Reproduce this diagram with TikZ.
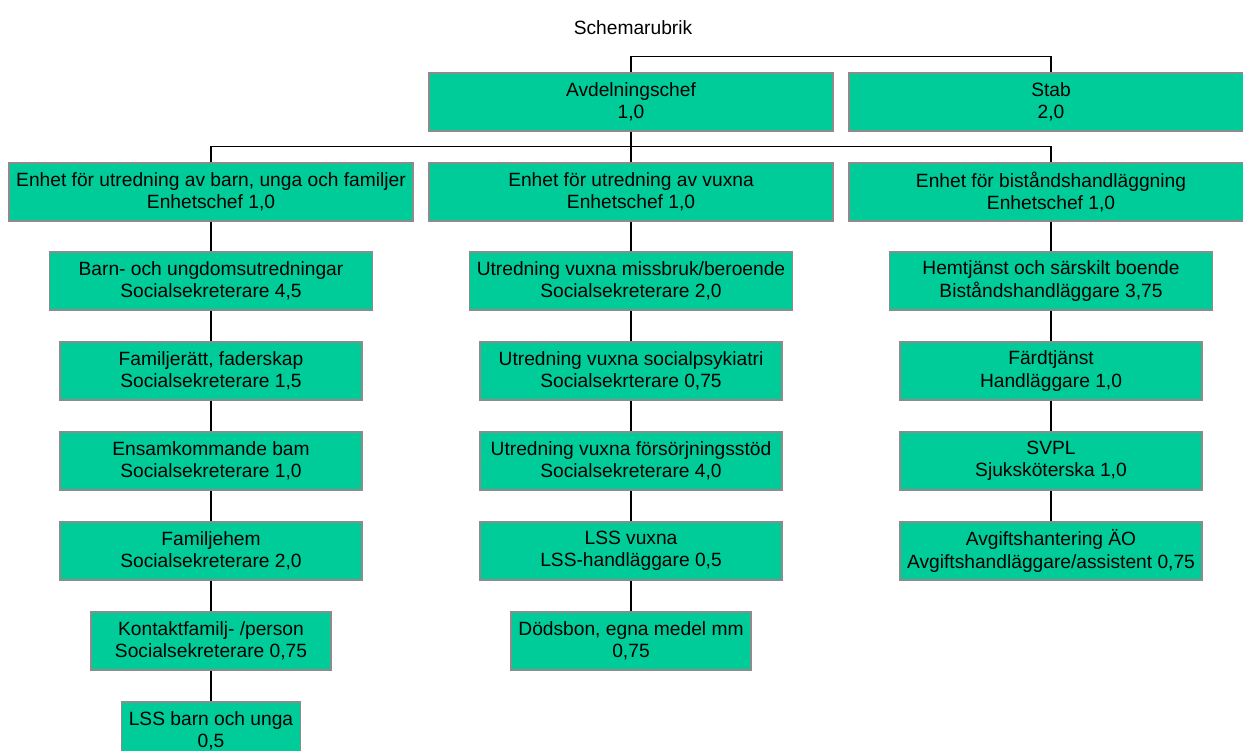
\documentclass[tikz,border=0pt]{standalone}
\usepackage{fontspec}
\setmainfont{Liberation Sans}
\usetikzlibrary{positioning}
\definecolor{boxgreen}{HTML}{00CC99}
\definecolor{boxgrey}{HTML}{8C8C8C}
\tikzstyle{orgbox}=[rectangle, draw=boxgrey, fill=boxgreen, line width=1.4pt, inner sep=0pt, minimum height=58pt, align=center]
\newcommand{\orgbox}{\node[orgbox]}

\begin{document}
\begin{tikzpicture}[x=1pt, y=-1pt,
            font=\fontsize{19.2}{22.5}\selectfont,
            every edge/.style={draw, line width=1.3pt}
        ]
            \useasboundingbox (0,0) rectangle (1243,751);

            \node (titel) at (633,28) {Schemarubrik};

            \orgbox (avd) at (631,102) [minimum width=404pt] {Avdelningschef\\1,0};
            \orgbox (stab) at (1051,102) [minimum width=404pt] {Stab\\2,0};

            \orgbox (e1) at (211,192) [minimum width=404pt] {Enhet för utredning av barn, unga och familjer\\Enhetschef 1,0};
            \orgbox (e2) at (631,192) [minimum width=404pt] {Enhet för utredning av vuxna\\Enhetschef 1,0};
            \orgbox (e3) at (1051,192) [minimum width=404pt] {Enhet för biståndshandläggning\\Enhetschef 1,0};

            \orgbox (b1) at (211,281) [minimum width=323pt] {Barn- och ungdomsutredningar\\Socialsekreterare 4,5};
            \orgbox (b2) at (211,371) [minimum width=302pt] {Familjerätt, faderskap\\Socialsekreterare 1,5};
            \orgbox (b3) at (211,461) [minimum width=302pt] {Ensamkommande bam\\Socialsekreterare 1,0};
            \orgbox (b4) at (211,551) [minimum width=302pt] {Familjehem\\Socialsekreterare 2,0};
            \orgbox (b5) at (211,641) [minimum width=240pt] {Kontaktfamilj- /person\\Socialsekreterare 0,75};
            \orgbox (b6) at (211,731) [minimum width=179pt] {LSS barn och unga\\0,5};

            \orgbox (v1) at (631,281) [minimum width=323pt] {Utredning vuxna missbruk/beroende\\Socialsekreterare 2,0};
            \orgbox (v2) at (631,371) [minimum width=302pt] {Utredning vuxna socialpsykiatri\\Socialsekrterare 0,75};
            \orgbox (v3) at (631,461) [minimum width=302pt] {Utredning vuxna försörjningsstöd\\Socialsekreterare 4,0};
            \orgbox (v4) at (631,551) [minimum width=302pt] {LSS vuxna\\LSS-handläggare 0,5};
            \orgbox (v5) at (631,641) [minimum width=240pt] {Dödsbon, egna medel mm\\0,75};

            \orgbox (h1) at (1051,281) [minimum width=323pt] {Hemtjänst och särskilt boende\\Biståndshandläggare 3,75};
            \orgbox (h2) at (1051,371) [minimum width=302pt] {Färdtjänst\\Handläggare 1,0};
            \orgbox (h3) at (1051,461) [minimum width=302pt] {SVPL\\Sjuksköterska 1,0};
            \orgbox (h4) at (1051,551) [minimum width=302pt] {Avgiftshantering ÄO\\Avgiftshandläggare/assistent 0,75};

            \draw[line width=1.3pt] (avd.north) -- ++(0,-16) -| (stab.north);
            \draw[line width=1.3pt] (e1.north) -- ++(0,-16) -| (e3.north);

            \path
                (avd) edge (e2)

                (e1) edge (b1)
                (b1) edge (b2)
                (b2) edge (b3)
                (b3) edge (b4)
                (b4) edge (b5)
                (b5) edge (b6)

                (e2) edge (v1)
                (v1) edge (v2)
                (v2) edge (v3)
                (v3) edge (v4)
                (v4) edge (v5)

                (e3) edge (h1)
                (h1) edge (h2)
                (h2) edge (h3)
                (h3) edge (h4)
            ;
        \end{tikzpicture}
\end{document}
